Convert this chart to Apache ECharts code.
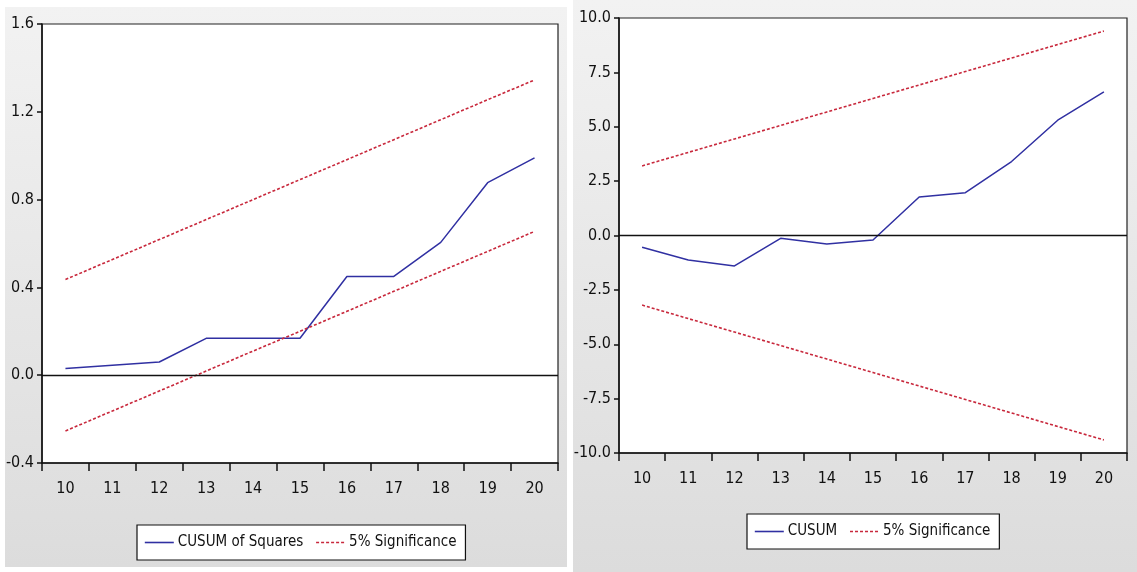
<!DOCTYPE html>
<html>
<head>
<meta charset="utf-8">
<script src="https://cdn.jsdelivr.net/npm/echarts@6/dist/echarts.min.js"></script>
<style>
  html, body { margin: 0; padding: 0; background: #ffffff; }
  #chart { width: 1137px; height: 572px; }
</style>
</head>
<body>
<div id="chart"></div>
<script>
// Recursive residual stability tests: CUSUM of squares (left) and CUSUM (right)
const periods = ['10', '11', '12', '13', '14', '15', '16', '17', '18', '19', '20'];

const cusumSq      = [0.03, 0.045, 0.06, 0.168, 0.168, 0.168, 0.45, 0.45, 0.605, 0.877, 0.99];
const cusumSqUpper = [0.436, 0.527, 0.618, 0.709, 0.800, 0.891, 0.982, 1.073, 1.164, 1.255, 1.345];
const cusumSqLower = [-0.254, -0.163, -0.072, 0.019, 0.110, 0.200, 0.291, 0.382, 0.473, 0.564, 0.655];

const cusum      = [-0.54, -1.13, -1.40, -0.13, -0.39, -0.21, 1.77, 1.97, 3.4, 5.3, 6.6];
const cusumUpper = [3.2, 3.82, 4.44, 5.06, 5.68, 6.3, 6.92, 7.54, 8.16, 8.78, 9.4];
const cusumLower = [-3.2, -3.82, -4.44, -5.06, -5.68, -6.3, -6.92, -7.54, -8.16, -8.78, -9.4];

const FONT = "'Liberation Sans Narrow', 'Arial Narrow', 'DejaVu Sans Condensed', 'Liberation Sans', sans-serif";
const BLUE = '#3030a2';
const RED = '#c8283c';

const chart = echarts.init(document.getElementById('chart'), null, { renderer: 'canvas' });

function panelBg(x, y, w, h) {
  return {
    type: 'rect', z: -10, silent: true,
    shape: { x: x, y: y, width: w, height: h },
    style: {
      fill: new echarts.graphic.LinearGradient(0, 0, 0, 1, [
        { offset: 0, color: '#f2f2f2' },
        { offset: 1, color: '#dcdcdc' }
      ])
    }
  };
}

function xAxisCfg(gridIndex) {
  return {
    type: 'category', gridIndex: gridIndex, data: periods, boundaryGap: true,
    axisLine: { onZero: false, lineStyle: { color: '#111', width: 1.5 } },
    axisTick: { show: true, inside: false, length: 8, lineStyle: { color: '#111', width: 1.5 } },
    axisLabel: { color: '#111', fontFamily: FONT, fontSize: 16, margin: 18 },
    splitLine: { show: false }
  };
}

function yAxisCfg(gridIndex, min, max, interval) {
  return {
    type: 'value', gridIndex: gridIndex, min: min, max: max, interval: interval,
    axisLine: { show: true, lineStyle: { color: '#111', width: 1.5 } },
    axisTick: { show: true, inside: false, length: 5, lineStyle: { color: '#111', width: 1.5 } },
    axisLabel: { color: '#111', fontFamily: FONT, fontSize: 16, margin: 8,
      formatter: v => v.toFixed(1) },
    splitLine: { show: false }
  };
}

function lineSeries(name, data, idx, color, dashed, zeroLine) {
  const s = {
    name: name, type: 'line', xAxisIndex: idx, yAxisIndex: idx, data: data,
    symbol: 'none', smooth: false, animation: false,
    lineStyle: { color: color, width: dashed ? 1.6 : 1.5, type: dashed ? [3, 2] : 'solid' },
    itemStyle: { color: color }
  };
  if (zeroLine) {
    s.markLine = {
      silent: true, symbol: 'none', animation: false,
      label: { show: false },
      lineStyle: { color: '#111', width: 1.4, type: 'solid' },
      data: [{ yAxis: 0 }]
    };
  }
  return s;
}

function legendCfg(left, top, names) {
  return {
    left: left, top: top, data: names,
    orient: 'horizontal',
    backgroundColor: '#ffffff', borderColor: '#111', borderWidth: 1.2,
    padding: [10, 9, 10, 7], itemGap: 12, itemWidth: 29, itemHeight: 14,
    itemStyle: { opacity: 0 },
    lineStyle: { width: 1.6 },
    textStyle: { color: '#111', fontFamily: FONT, fontSize: 15, padding: [0, 0, 0, -1] },
    selectedMode: false
  };
}

const option = {
  animation: false,
  backgroundColor: '#ffffff',
  graphic: [panelBg(5, 7, 562, 560), panelBg(573, 0, 564, 572)],
  grid: [
    { left: 42, top: 24, width: 516, height: 439, show: true,
      backgroundColor: '#ffffff', borderColor: '#222', borderWidth: 1.2 },
    { left: 619, top: 18, width: 508, height: 435, show: true,
      backgroundColor: '#ffffff', borderColor: '#222', borderWidth: 1.2 }
  ],
  xAxis: [xAxisCfg(0), xAxisCfg(1)],
  yAxis: [yAxisCfg(0, -0.4, 1.6, 0.4), yAxisCfg(1, -10, 10, 2.5)],
  legend: [
    legendCfg(137, 525, ['CUSUM of Squares', '5% Significance']),
    legendCfg(747, 514, ['CUSUM', '5% Significance'])
  ],
  series: [
    lineSeries('CUSUM of Squares', cusumSq, 0, BLUE, false, true),
    lineSeries('5% Significance', cusumSqUpper, 0, RED, true, false),
    lineSeries('5% Significance', cusumSqLower, 0, RED, true, false),
    lineSeries('CUSUM', cusum, 1, BLUE, false, true),
    lineSeries('5% Significance', cusumUpper, 1, RED, true, false),
    lineSeries('5% Significance', cusumLower, 1, RED, true, false)
  ]
};

chart.setOption(option);
</script>
</body>
</html>
